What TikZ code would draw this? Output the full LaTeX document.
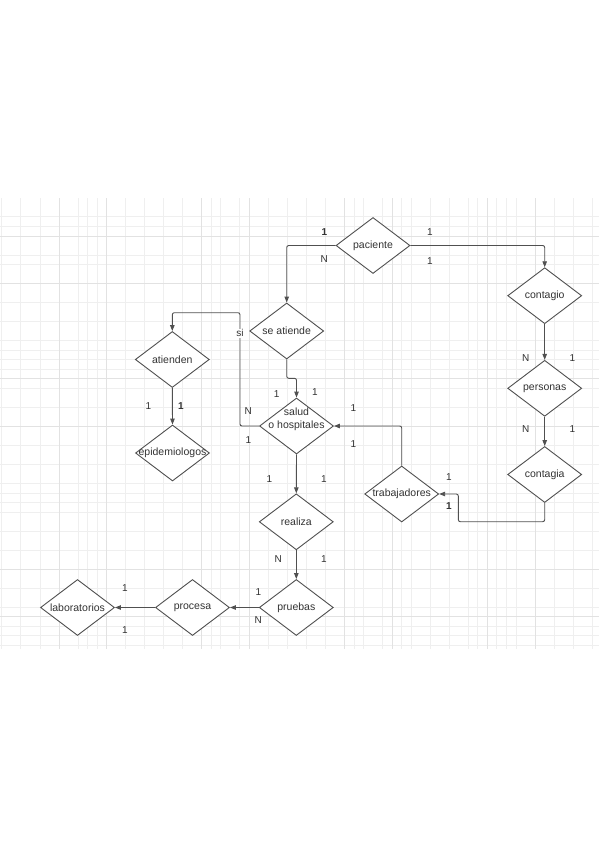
\documentclass[tikz,border=0pt]{standalone}
\usepackage{fontspec}
\setmainfont{Liberation Sans}
\usetikzlibrary{shapes.geometric,arrows.meta}
\definecolor{linec}{HTML}{505050}
\definecolor{txtc}{HTML}{333333}
\definecolor{gridl}{HTML}{EFEFEF}
\definecolor{gridd}{HTML}{E2E2E2}
\begin{document}
\begin{tikzpicture}[x=1pt,y=-1pt,
  dia/.style={shape=diamond, draw=linec, line width=0.9pt, minimum width=74pt, minimum height=56pt, inner sep=0pt, fill=white},
  dlab/.style={font=\fontsize{10.5}{13.3}\selectfont, text=txtc, inner sep=0pt, align=center},
  card/.style={font=\fontsize{10}{12}\selectfont, text=txtc, inner sep=0pt},
  cardb/.style={font=\fontsize{10}{12}\selectfont\bfseries, text=txtc, inner sep=0pt},
  conn/.style={draw=linec, line width=0.9pt, rounded corners=2pt},
  arr/.style={conn, -{Triangle[length=6pt,width=4.5pt]}},
  gminor/.style={draw=gridl, line width=0.9pt},
  gmajor/.style={draw=gridd, line width=0.9pt}
  ]
% background and bounding box
\fill[white] (0,0) rectangle (599,848);
\useasboundingbox (0,0) rectangle (599,848);
% grid
\foreach \i in {0,2,4,8,9,10,13,15,17,19,22,23,25,28,30,32,34,37,38,40,42,43,45,47,49,50,52,53,54,58,60,62}
  \draw[gminor] ({1.9+9.52*\i},198) -- ({1.9+9.52*\i},649);
\foreach \j in {2,3,6,7,11,13,15,16,17,18,20,22,26,28,30,31,32,33,35,37,41,43,45,46,47}
  \draw[gminor] (0,{197.9+9.52*\j}) -- (599,{197.9+9.52*\j});
\foreach \i in {6,11,21,26,36,41,51,56}
  \draw[gmajor] ({1.9+9.52*\i},198) -- ({1.9+9.52*\i},649);
\foreach \j in {4,9,19,24,39,44}
  \draw[gmajor] (0,{197.9+9.52*\j}) -- (599,{197.9+9.52*\j});

% diamonds
\node[dia, label={[dlab,name=pacienteT]center:paciente}] (paciente) at (373,245.5) {};
\node[dia, label={[dlab,name=contagioT]center:contagio}] (contagio) at (544.7,295.7) {};
\node[dia, label={[dlab,name=seatiendeT]center:se atiende}] (seatiende) at (286.7,331) {};
\node[dia, label={[dlab,name=atiendenT]center:atienden}] (atienden) at (172.3,359.5) {};
\node[dia, label={[dlab,name=saludT,yshift=6.5pt]center:{salud\\o hospitales}}] (salud) at (296.5,426) {};
\node[dia, label={[dlab,name=epidemiologosT]center:epidemiologos}] (epidemiologos) at (172.5,453) {};
\node[dia, label={[dlab,name=personasT]center:personas}] (personas) at (544.7,388.3) {};
\node[dia, label={[dlab,name=contagiaT]center:contagia}] (contagia) at (544.7,474.5) {};
\node[dia, label={[dlab,name=trabajadoresT]center:trabajadores}] (trabajadores) at (401.7,494) {};
\node[dia, label={[dlab,name=realizaT]center:realiza}] (realiza) at (296.3,521.8) {};
\node[dia, label={[dlab,name=pruebasT]center:pruebas}] (pruebas) at (296.3,607.5) {};
\node[dia, label={[dlab,name=procesaT]center:procesa}] (procesa) at (192.5,607.5) {};
\node[dia, label={[dlab,name=laboratoriosT]center:laboratorios}] (laboratorios) at (77.5,607.5) {};

% bend points
\coordinate (b1) at (458.3,521.7);
\coordinate (b2) at (286.7,378.3);
\coordinate (b3) at (240,312.7);

% connectors
\draw[arr] (paciente.west) -| (seatiende.north);
\draw[arr] (paciente.east) -| (contagio.north);
\draw[arr] (contagio.south) -- (personas.north);
\draw[arr] (personas.south) -- (contagia.north);
\draw[arr] (contagia.south) |- (b1) |- (trabajadores.east);
\draw[arr] (trabajadores.north) |- (salud.east);
\draw[arr] (seatiende.south) -- (b2) -| (salud.north);
\draw[arr] (salud.west) -| (b3) -| (atienden.north);
\draw[arr] (atienden.south) -- (epidemiologos.north);
\draw[arr] (salud.south) -- (realiza.north);
\draw[arr] (realiza.south) -- (pruebas.north);
\draw[arr] (pruebas.west) -- (procesa.east);
\draw[arr] (procesa.west) -- (laboratorios.east);

% cardinality labels
\node[cardb] (c1) at (324.3,232.3) {1};
\node[card] (c2) at (324.3,259) {N};
\node[card] (c3) at (430,232.3) {1};
\node[card] (c4) at (430,261) {1};
\node[card, fill=white, inner sep=1pt] (c5) at (240,333.3) {si};
\node[card] (c6) at (248.3,410.7) {N};
\node[card] (c7) at (248.3,440) {1};
\node[card] (c8) at (276.7,394.3) {1};
\node[card] (c9) at (315,391.7) {1};
\node[card] (c10) at (148.3,406) {1};
\node[cardb] (c11) at (181,406) {1};
\node[card] (c12) at (353.3,408.5) {1};
\node[card] (c13) at (353.3,444) {1};
\node[card] (c14) at (269.3,479.3) {1};
\node[card] (c15) at (324,479.3) {1};
\node[card] (c16) at (525.7,358.3) {N};
\node[card] (c17) at (572.3,358.3) {1};
\node[card] (c18) at (525.7,429.3) {N};
\node[card] (c19) at (572.3,429.3) {1};
\node[card] (c20) at (449,477.3) {1};
\node[cardb] (c21) at (449,505.7) {1};
\node[card] (c22) at (278.3,559.3) {N};
\node[card] (c23) at (324,559.3) {1};
\node[card] (c24) at (258.3,591.7) {1};
\node[card] (c25) at (258.3,620) {N};
\node[card] (c26) at (125,588.3) {1};
\node[card] (c27) at (125,630) {1};
\end{tikzpicture}
\end{document}
